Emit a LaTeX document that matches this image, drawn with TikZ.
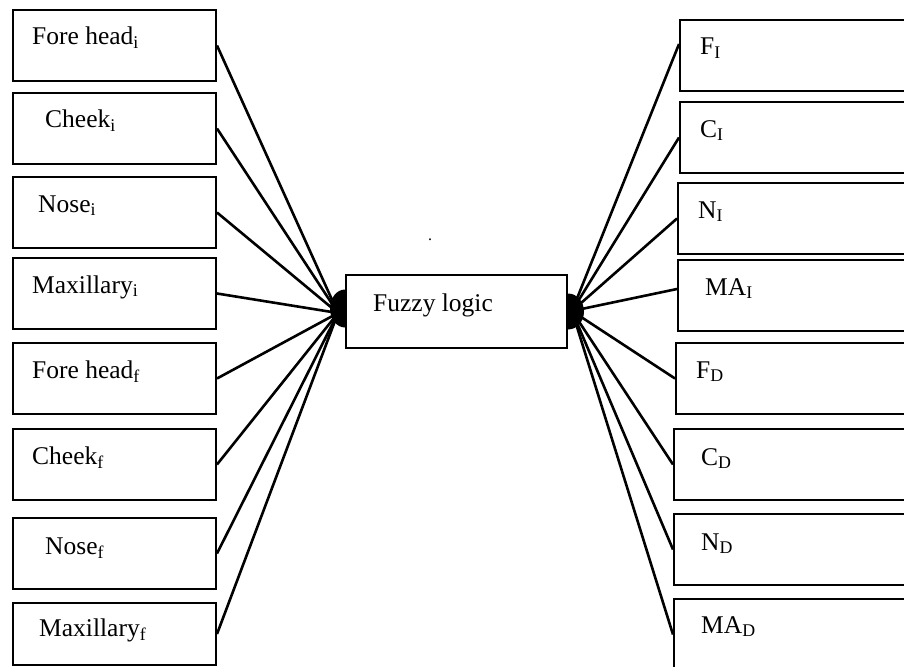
\documentclass[tikz,border=0pt]{standalone}
\usepackage{fontspec}
\setmainfont{Liberation Serif}
\begin{document}
\begin{tikzpicture}[x=1pt,y=-1pt,
  box/.style={draw=black,line width=2pt,inner sep=0pt,minimum width=#1,minimum height=71pt,anchor=north west},
  box/.default=203pt,
  lbl/.style={anchor=base west,inner sep=0pt,font=\fontsize{25.5}{30}\selectfont},
  wire/.style={draw=black,line width=2.6pt}]
\path[use as bounding box,clip] (0,0) rectangle (904,666);

% input boxes (left column)
\node[box] (l1) at (12,9)   {};
\node[box] (l2) at (12,92)  {};
\node[box] (l3) at (12,176) {};
\node[box] (l4) at (12,257) {};
\node[box] (l5) at (12,342) {};
\node[box] (l6) at (12,428) {};
\node[box] (l7) at (12,517) {};
\node[box,minimum height=62pt] (l8) at (12,602) {};

\node[lbl] (tl1) at (32,45)  {Fore head\textsubscript{i}};
\node[lbl] (tl2) at (45,128) {Cheek\textsubscript{i}};
\node[lbl] (tl3) at (38,212) {Nose\textsubscript{i}};
\node[lbl] (tl4) at (32,293) {Maxillary\textsubscript{i}};
\node[lbl] (tl5) at (32,378) {Fore head\textsubscript{f}};
\node[lbl] (tl6) at (32,464) {Cheek\textsubscript{f}};
\node[lbl] (tl7) at (45,554) {Nose\textsubscript{f}};
\node[lbl] (tl8) at (39,636) {Maxillary\textsubscript{f}};

% output boxes (right column, running off the edge)
\node[box=250pt] (r1) at (679,19)  {};
\node[box=250pt] (r2) at (679,101) {};
\node[box=250pt] (r3) at (677,182) {};
\node[box=250pt] (r4) at (677,259) {};
\node[box=250pt] (r5) at (675,342) {};
\node[box=250pt] (r6) at (673,428) {};
\node[box=250pt] (r7) at (673,513) {};
\node[box=250pt] (r8) at (673,598) {};

\node[lbl] (tr1) at (700,55)  {F\textsubscript{I}};
\node[lbl] (tr2) at (700,137) {C\textsubscript{I}};
\node[lbl] (tr3) at (698,218) {N\textsubscript{I}};
\node[lbl] (tr4) at (705,295) {MA\textsubscript{I}};
\node[lbl] (tr5) at (696,378) {F\textsubscript{D}};
\node[lbl] (tr6) at (701,465) {C\textsubscript{D}};
\node[lbl] (tr7) at (701,550) {N\textsubscript{D}};
\node[lbl] (tr8) at (701,633) {MA\textsubscript{D}};

% central block
\node[box=221pt,minimum height=73pt] (fz) at (345,274) {};
\node[lbl] (tfz) at (373,311) {Fuzzy logic};
\node[lbl,font=\fontsize{16}{18}\selectfont] (dot) at (428,240) {.};

% convergence points
\coordinate (cl) at (338,313);
\coordinate (cr) at (572,311);

% connectors
\foreach \i in {1,...,8} \draw[wire] (l\i.east) -- (cl);
\draw[wire] ([yshift=11.5pt]r1.west) -- (cr);
\draw[wire] (r2.west) -- (cr);
\draw[wire] (r3.west) -- (cr);
\draw[wire] ([yshift=6.5pt]r4.west) -- (cr);
\foreach \i in {5,...,8} \draw[wire] (r\i.west) -- (cr);

% junction blobs
\fill ([yshift=20pt]fz.west) ++(0,-2) arc[start angle=90,end angle=270,x radius=15pt,y radius=19pt] -- cycle;
\fill ([yshift=18pt]fz.east) arc[start angle=90,end angle=-90,x radius=16pt,y radius=18pt] -- cycle;
\end{tikzpicture}
\end{document}
